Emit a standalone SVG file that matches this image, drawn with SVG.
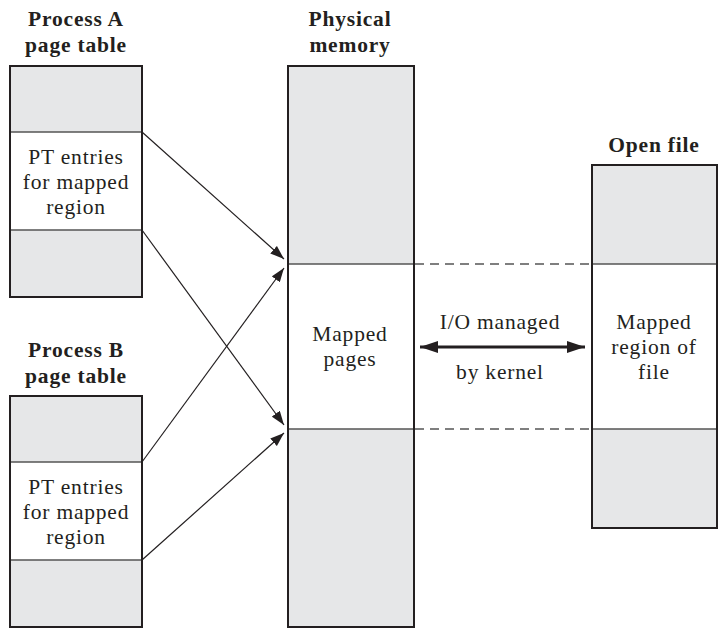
<svg xmlns="http://www.w3.org/2000/svg" width="728" height="638" viewBox="0 0 728 638">
<style>
.g{fill:#e6e7e8;stroke:none}
.w{fill:#fff;stroke:none}
.box{fill:none;stroke:#231f20;stroke-width:2}
.div{stroke:#555;stroke-width:1.5}
.t{font-family:"Liberation Serif","Times New Roman",serif;font-size:21.5px;fill:#231f20;text-anchor:middle;letter-spacing:0.8px}
.b{font-weight:bold}
.c{stroke:#231f20;stroke-width:1.2;fill:none}
.d{stroke:#555;stroke-width:1.3;stroke-dasharray:9 6;fill:none}
</style>
<defs>
<marker id="ah" viewBox="0 0 14 10" refX="14" refY="5" markerWidth="14" markerHeight="10" markerUnits="userSpaceOnUse" orient="auto">
<path d="M0,0 L14,5 L0,10 Z" fill="#231f20"/>
</marker>
<marker id="ah2" viewBox="0 0 18 12" refX="18" refY="6" markerWidth="18" markerHeight="12" markerUnits="userSpaceOnUse" orient="auto-start-reverse">
<path d="M0,0 L18,6 L0,12 Z" fill="#231f20"/>
</marker>
</defs>
<g id="procA">
<rect class="g" x="10" y="66" width="132" height="231"/>
<rect class="w" x="10" y="132" width="132" height="98"/>
<line class="div" x1="10" y1="132" x2="142" y2="132"/>
<line class="div" x1="10" y1="230" x2="142" y2="230"/>
<rect class="box" x="10" y="66" width="132" height="231"/>
<text class="t b" x="76" y="26">Process A</text>
<text class="t b" x="76" y="52">page table</text>
<text class="t" x="76" y="164">PT entries</text>
<text class="t" x="76" y="189">for mapped</text>
<text class="t" x="76" y="214">region</text>
</g>
<g id="procB">
<rect class="g" x="10" y="396" width="132" height="231"/>
<rect class="w" x="10" y="462" width="132" height="98"/>
<line class="div" x1="10" y1="462" x2="142" y2="462"/>
<line class="div" x1="10" y1="560" x2="142" y2="560"/>
<rect class="box" x="10" y="396" width="132" height="231"/>
<text class="t b" x="76" y="357">Process B</text>
<text class="t b" x="76" y="383">page table</text>
<text class="t" x="76" y="494">PT entries</text>
<text class="t" x="76" y="519">for mapped</text>
<text class="t" x="76" y="544">region</text>
</g>
<g id="physmem">
<rect class="g" x="288" y="66" width="126" height="561"/>
<rect class="w" x="288" y="264" width="126" height="165"/>
<line class="div" x1="288" y1="264" x2="414" y2="264"/>
<line class="div" x1="288" y1="429" x2="414" y2="429"/>
<rect class="box" x="288" y="66" width="126" height="561"/>
<text class="t b" x="350" y="26">Physical</text>
<text class="t b" x="350" y="52">memory</text>
<text class="t" x="350" y="341">Mapped</text>
<text class="t" x="350" y="366">pages</text>
</g>
<g id="openfile">
<rect class="g" x="592" y="165" width="125" height="363"/>
<rect class="w" x="592" y="264" width="125" height="165"/>
<line class="div" x1="592" y1="264" x2="717" y2="264"/>
<line class="div" x1="592" y1="429" x2="717" y2="429"/>
<rect class="box" x="592" y="165" width="125" height="363"/>
<text class="t b" x="654" y="152">Open file</text>
<text class="t" x="654" y="329">Mapped</text>
<text class="t" x="654" y="354">region of</text>
<text class="t" x="654" y="379">file</text>
</g>
<g id="connectors">
<line class="c" x1="142" y1="132" x2="284" y2="259" marker-end="url(#ah)"/>
<line class="c" x1="142" y1="230" x2="284" y2="425" marker-end="url(#ah)"/>
<line class="c" x1="142" y1="462" x2="284" y2="268" marker-end="url(#ah)"/>
<line class="c" x1="142" y1="560" x2="284" y2="433" marker-end="url(#ah)"/>
<line class="d" x1="415" y1="264" x2="591" y2="264"/>
<line class="d" x1="415" y1="429" x2="591" y2="429"/>
<line x1="420" y1="347" x2="585" y2="347" stroke="#231f20" stroke-width="3" marker-start="url(#ah2)" marker-end="url(#ah2)"/>
<text class="t" x="500" y="329">I/O managed</text>
<text class="t" x="500" y="379">by kernel</text>
</g>
</svg>
